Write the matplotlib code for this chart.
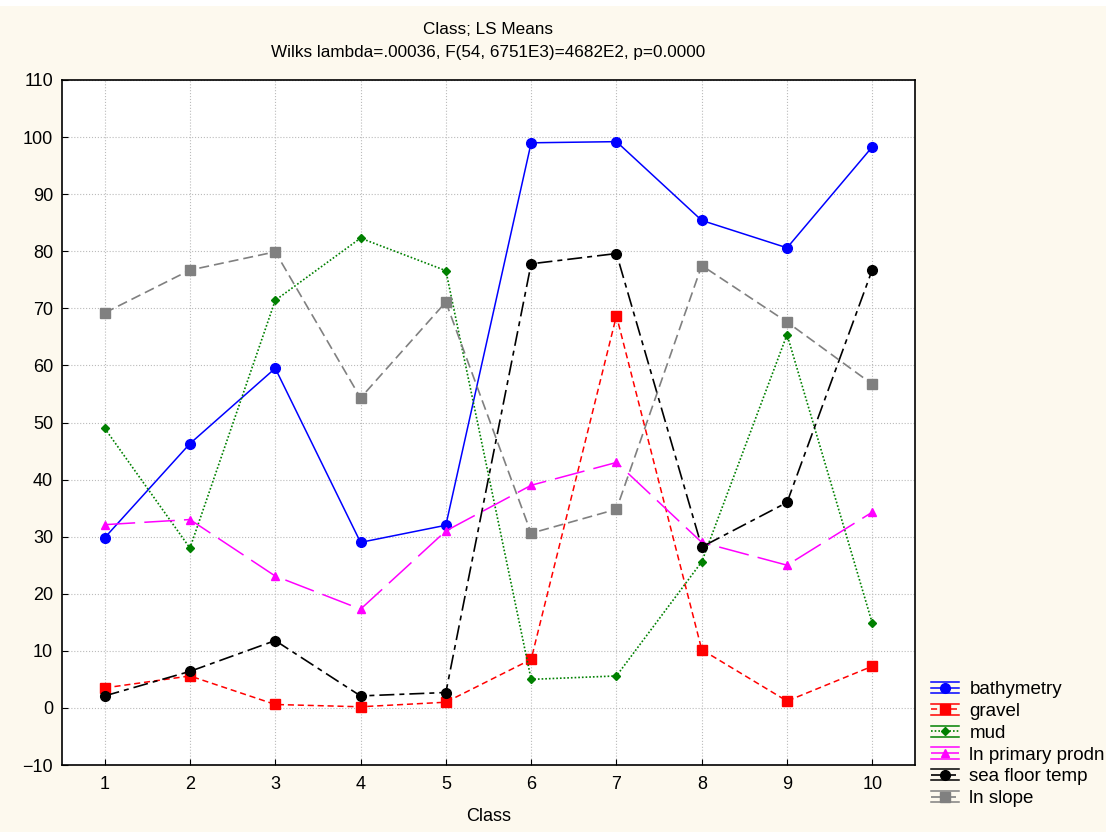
import matplotlib
matplotlib.use("Agg")
import matplotlib.pyplot as plt
from matplotlib.legend_handler import HandlerLine2D
from matplotlib.lines import Line2D
from matplotlib.patches import Rectangle

plt.rcParams['font.family'] = ['Liberation Sans', 'DejaVu Sans']

classes = [1, 2, 3, 4, 5, 6, 7, 8, 9, 10]
bathymetry = [29.8, 46.3, 59.5, 29.0, 32.0, 99.0, 99.2, 85.4, 80.6, 98.3]
gravel = [3.5, 5.6, 0.6, 0.2, 1.0, 8.5, 68.7, 10.2, 1.2, 7.3]
mud = [49.0, 28.0, 71.4, 82.3, 76.6, 5.0, 5.6, 25.6, 65.4, 14.8]
ln_primary_prodn = [32.1, 33.0, 23.1, 17.3, 31.0, 39.0, 43.0, 29.0, 25.0, 34.3]
sea_floor_temp = [2.1, 6.4, 11.8, 2.1, 2.7, 77.8, 79.6, 28.2, 36.0, 76.8]
ln_slope = [69.2, 76.7, 79.9, 54.3, 71.1, 30.6, 34.8, 77.5, 67.6, 56.7]
yticks = list(range(-10, 111, 10))

bg = '#FDF9EE'
fig = plt.figure(figsize=(11.06, 8.32), dpi=100, facecolor=bg)
ax = fig.add_axes([62/1106, 1-765/832, (915-62)/1106, (765-80)/832])
ax.set_facecolor('white')
fig.patches.append(Rectangle((0, 1-6/832), 1, 6/832, transform=fig.transFigure,
                             facecolor='white', edgecolor='none', zorder=-1))

series = [
    ('bathymetry', bathymetry, dict(color='#0000FF', linestyle='-', marker='o', ms=7, lw=1.1)),
    ('gravel', gravel, dict(color='#FF0000', linestyle=(0, (4, 2.5)), marker='s', ms=7, lw=1.1)),
    ('mud', mud, dict(color='#008000', linestyle=(0, (1, 1.2)), marker='D', ms=4.5, lw=1.2)),
    ('ln primary prodn', ln_primary_prodn, dict(color='#FF00FF', linestyle=(0, (20, 6)), marker='^', ms=6, lw=1.1)),
    ('sea floor temp', sea_floor_temp, dict(color='#000000', linestyle=(0, (9, 3, 3, 3)), marker='o', ms=7, lw=1.2)),
    ('ln slope', ln_slope, dict(color='#808080', linestyle=(0, (6, 3)), marker='s', ms=7, lw=1.2)),
]

handles = []
for name, vals, st in series:
    line, = ax.plot(classes, vals, label=name, **st)
    handles.append(line)

ax.set_xlim(0.5, 10.5)
ax.set_ylim(-10, 110)
ax.set_xticks(classes)
ax.set_yticks(yticks)
ax.tick_params(labelsize=13, direction='in', length=4)
ax.tick_params(axis='x', pad=8)
ax.tick_params(axis='y', pad=6.5)
ax.grid(True, color='#BBBBBB', linestyle=':', linewidth=0.8)
for s in ax.spines.values():
    s.set_linewidth(1.2)

ax.set_xlabel('Class', fontsize=13, labelpad=11)
fig.text(488/1106, 1-30/832, 'Class; LS Means', ha='center', va='center', fontsize=12.3)
fig.text(488/1106, 1-52/832, 'Wilks lambda=.00036, F(54, 6751E3)=4682E2, p=0.0000',
         ha='center', va='center', fontsize=12.3)


class HandlerCapped(HandlerLine2D):
    def create_artists(self, legend, orig_handle, xdescent, ydescent, width, height, fontsize, trans):
        arts = super().create_artists(legend, orig_handle, xdescent, ydescent, width, height, fontsize, trans)
        yc = height / 2 - ydescent
        for dy in (-0.42 * height, 0.42 * height):
            l = Line2D([-xdescent, -xdescent + width], [yc + dy, yc + dy],
                       color=orig_handle.get_color(), lw=1.1)
            l.set_transform(trans)
            arts.append(l)
        return arts


leg = fig.legend(handles=handles, loc='upper left', bbox_to_anchor=(931/1106, 1-681/832),
                 frameon=False, fontsize=13.5, handlelength=1.5, handletextpad=0.55,
                 labelspacing=0.25, borderaxespad=0, borderpad=0,
                 handler_map={Line2D: HandlerCapped()})

fig.savefig('out.png', dpi=100, facecolor=bg)
